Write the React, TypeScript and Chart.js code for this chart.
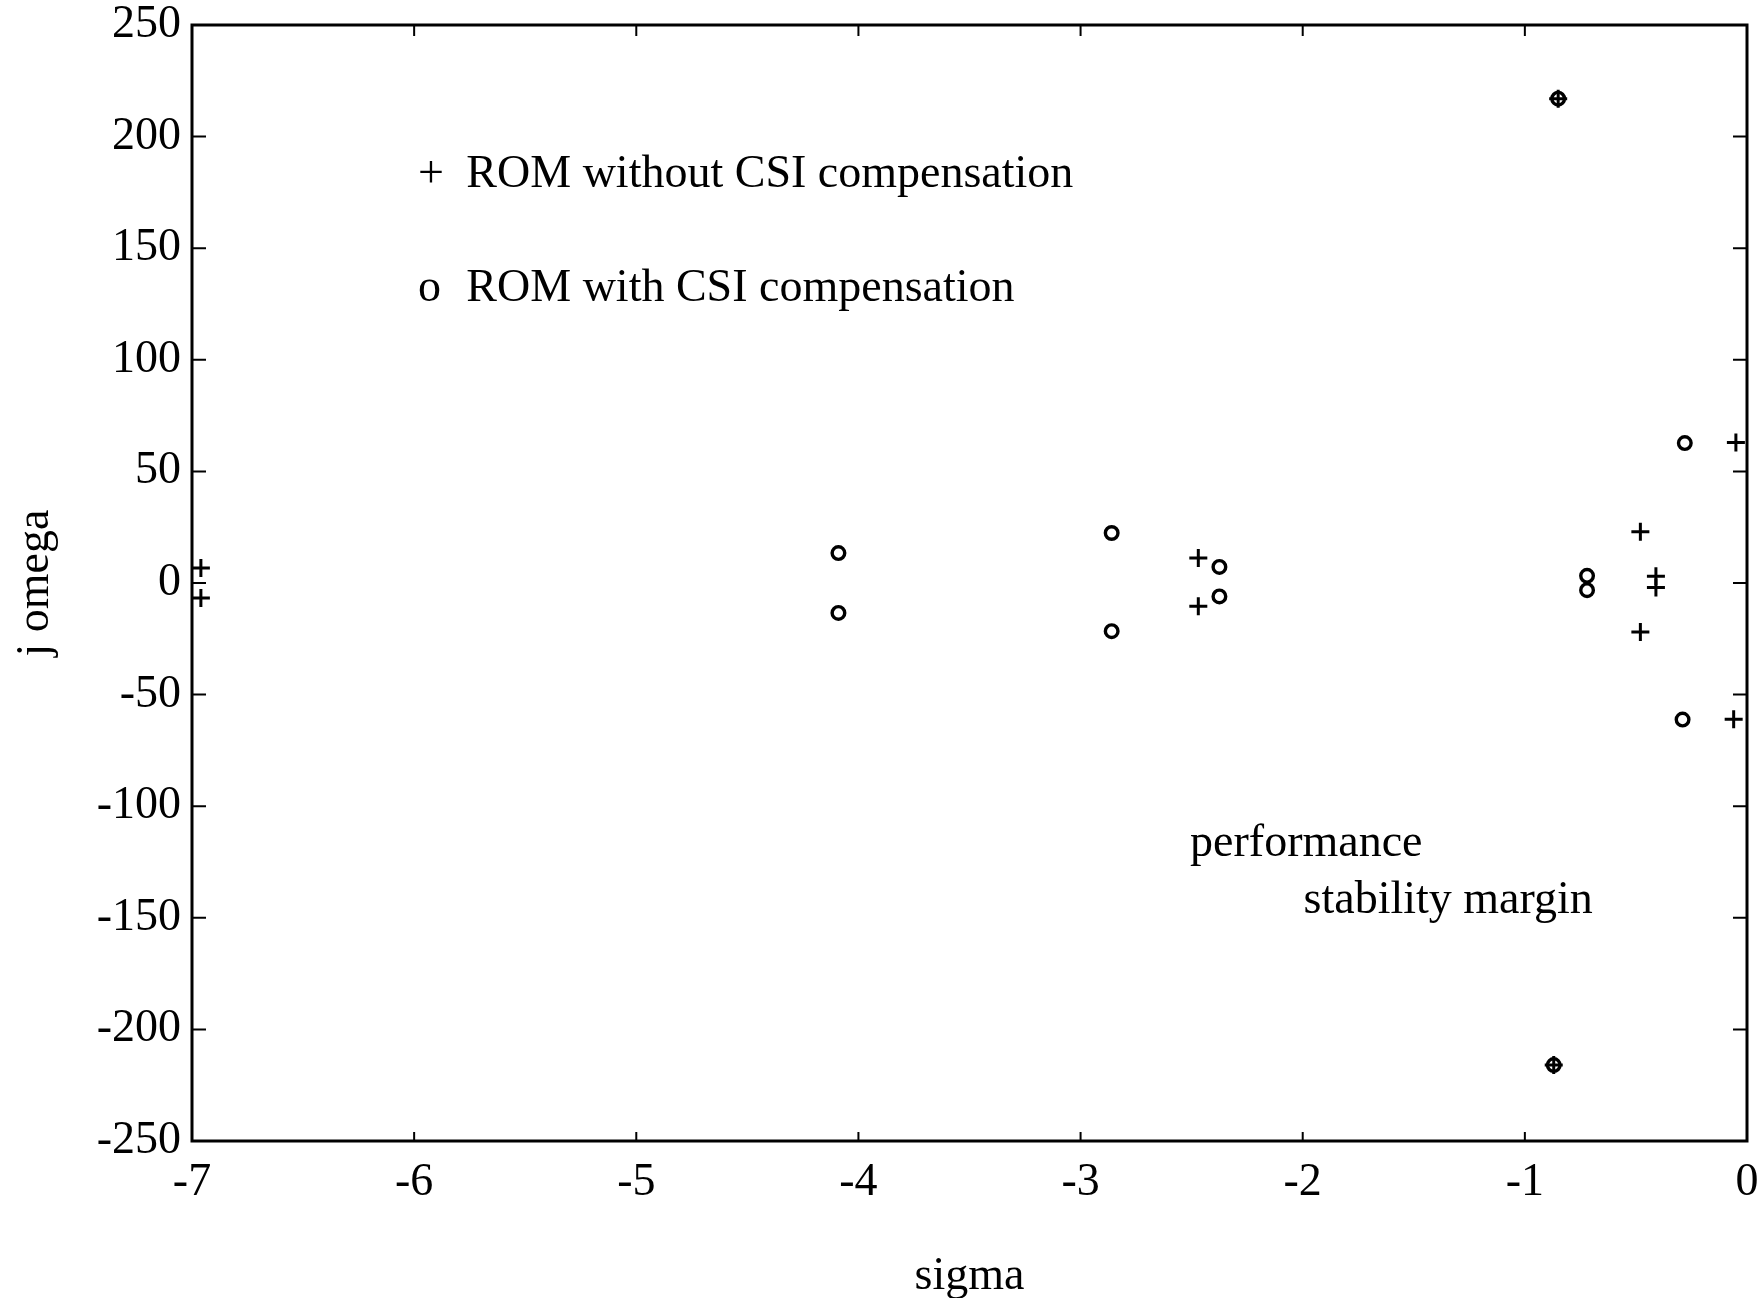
import React, { useEffect, useRef } from "react";
import { Chart, registerables } from "chart.js";

Chart.register(...registerables);

// ROM without CSI compensation ("+")
const withoutCsiSigma = [-0.85, -0.87, -0.05, -0.06, -0.48, -0.48, -0.41, -0.41, -2.47, -2.47, -6.96, -6.96];
const withoutCsiOmega = [217, -216, 63, -61, 23, -22, 3, -2, 11.2, -10.4, 6.7, -6.7];

// ROM with CSI compensation ("o")
const withCsiSigma = [-4.09, -4.09, -2.86, -2.86, -2.375, -2.375, -0.28, -0.29, -0.85, -0.87, -0.72, -0.72];
const withCsiOmega = [13.4, -13.4, 22.4, -21.6, 7.2, -6, 62.7, -61.2, 217, -216, 3.2, -3.2];

const xTicks = [-7, -6, -5, -4, -3, -2, -1, 0];
const yTicks = [250, 200, 150, 100, 50, 0, -50, -100, -150, -200, -250];

// in-plot text: [sigma, omega (baseline), text]
const notes: [number, number, string][] = [
  [-5.983, 177.4, "+"],
  [-5.765, 177.4, "ROM without CSI compensation"],
  [-5.983, 126.5, "o"],
  [-5.765, 126.5, "ROM with CSI compensation"],
  [-2.507, -122.5, "performance"],
  [-1.996, -147.7, "stability margin"],
];

const FONT = "'Liberation Serif', 'DejaVu Serif', serif";

const framePlugin = {
  id: "frameAndNotes",
  afterDatasetsDraw(chart: any) {
    const { ctx, chartArea } = chart;
    const xs = chart.scales.x;
    const ys = chart.scales.y;
    ctx.save();
    ctx.strokeStyle = "#000";
    ctx.lineWidth = 3;
    ctx.strokeRect(chartArea.left, chartArea.top, chartArea.right - chartArea.left, chartArea.bottom - chartArea.top);
    ctx.lineWidth = 2;
    ctx.beginPath();
    for (const v of xTicks) {
      const px = xs.getPixelForValue(v);
      ctx.moveTo(px, chartArea.top);
      ctx.lineTo(px, chartArea.top + 11);
      ctx.moveTo(px, chartArea.bottom);
      ctx.lineTo(px, chartArea.bottom - 9);
    }
    for (const v of yTicks) {
      const py = ys.getPixelForValue(v);
      ctx.moveTo(chartArea.left, py);
      ctx.lineTo(chartArea.left + 14, py);
      ctx.moveTo(chartArea.right, py);
      ctx.lineTo(chartArea.right - 14, py);
    }
    ctx.stroke();
    ctx.fillStyle = "#000";
    ctx.font = `46px ${FONT}`;
    ctx.textAlign = "left";
    ctx.textBaseline = "alphabetic";
    for (const [sx, sy, t] of notes) {
      ctx.fillText(t, xs.getPixelForValue(sx), ys.getPixelForValue(sy));
    }
    ctx.restore();
  },
};

export default function App() {
  const ref = useRef<HTMLCanvasElement | null>(null);
  useEffect(() => {
    if (!ref.current) return;
    const chart = new Chart(ref.current, {
      type: "scatter",
      data: {
        datasets: [
          {
            label: "ROM without CSI compensation",
            data: withoutCsiSigma.map((x, i) => ({ x, y: withoutCsiOmega[i] })),
            pointStyle: "cross",
            pointRadius: 9,
            pointBorderWidth: 3,
            borderColor: "#000",
            backgroundColor: "#000",
            clip: false,
          } as any,
          {
            label: "ROM with CSI compensation",
            data: withCsiSigma.map((x, i) => ({ x, y: withCsiOmega[i] })),
            pointStyle: "circle",
            pointRadius: 6.3,
            pointBorderWidth: 3.4,
            borderColor: "#000",
            backgroundColor: "rgba(0,0,0,0)",
            clip: false,
          } as any,
        ],
      },
      options: {
        responsive: false,
        animation: false,
        layout: { padding: { left: 0, top: 25, right: 17, bottom: 0 } },
        plugins: { legend: { display: false }, tooltip: { enabled: false }, title: { display: false } },
        scales: {
          x: {
            type: "linear",
            min: -7,
            max: 0,
            afterBuildTicks: (s: any) => {
              s.ticks = xTicks.map((v) => ({ value: v }));
            },
            afterFit: (s: any) => {
              s.height = 157;
              s.paddingLeft = 0;
              s.paddingRight = 0;
            },
            grid: { display: false, drawTicks: false },
            border: { display: false },
            ticks: {
              padding: 14,
              color: "#000",
              font: { family: FONT, size: 46 },
              maxRotation: 0,
              autoSkip: false,
              callback: (v: any) => String(v),
            },
            title: {
              display: true,
              text: "sigma",
              color: "#000",
              font: { family: FONT, size: 46 },
              padding: { top: 0, bottom: -7 },
            },
          },
          y: {
            type: "linear",
            min: -250,
            max: 250,
            afterBuildTicks: (s: any) => {
              s.ticks = yTicks.map((v) => ({ value: v }));
            },
            afterFit: (s: any) => {
              s.width = 192;
              s.paddingTop = 0;
              s.paddingBottom = 0;
            },
            grid: { display: false, drawTicks: false },
            border: { display: false },
            ticks: {
              padding: 11,
              color: "#000",
              font: { family: FONT, size: 46 },
              autoSkip: false,
              callback: (v: any) => String(v),
            },
            title: {
              display: true,
              text: "j omega",
              color: "#000",
              font: { family: FONT, size: 46 },
              padding: { top: 8, bottom: 0 },
            },
          },
        },
      },
      plugins: [framePlugin],
    });
    return () => chart.destroy();
  }, []);
  return (
    <div style={{ position: "fixed", left: 0, top: 0, width: 1764, height: 1298, background: "#fff" }}>
      <canvas ref={ref} width={1764} height={1298} style={{ display: "block" }} />
    </div>
  );
}
